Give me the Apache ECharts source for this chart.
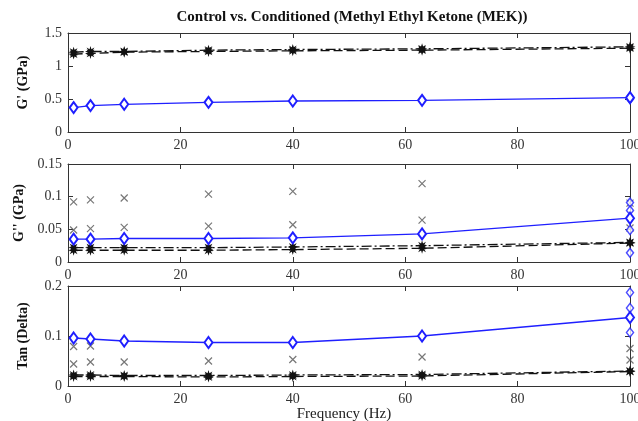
<!DOCTYPE html>
<html>
<head>
<meta charset="utf-8">
<script src="https://cdn.jsdelivr.net/npm/echarts@6/dist/echarts.min.js"></script>
<style>
  html, body { margin: 0; padding: 0; background: #fff; }
  #chart { width: 638px; height: 421px; }
</style>
</head>
<body>
<div id="chart"></div>
<script>
// frequencies (Hz)
var freq = [1, 4, 10, 25, 40, 63, 100];

// G' (GPa)
var gpBlue = [0.37, 0.40, 0.42, 0.45, 0.47, 0.48, 0.52];
var gpDash = [1.18, 1.19, 1.21, 1.22, 1.23, 1.24, 1.27];
var gpDashDot = [1.21, 1.22, 1.22, 1.24, 1.25, 1.26, 1.29];
var gpBlueExtra = [0.50, 0.53];

// G'' (GPa)
var gppBlue = [0.035, 0.035, 0.036, 0.036, 0.037, 0.043, 0.067];
var gppDash = [0.018, 0.018, 0.018, 0.018, 0.019, 0.021, 0.029];
var gppDashDot = [0.022, 0.022, 0.022, 0.022, 0.023, 0.025, 0.030];
var gppCrossHigh = [0.092, 0.095, 0.098, 0.104, 0.108, 0.120, 0.090];
var gppCrossLow = [0.049, 0.051, 0.053, 0.055, 0.057, 0.064, 0.052];
var gppBlueExtra = [0.091, 0.079, 0.049, 0.014];

// Tan (Delta)
var tdBlue = [0.096, 0.094, 0.090, 0.087, 0.087, 0.100, 0.137];
var tdDash = [0.019, 0.019, 0.019, 0.018, 0.019, 0.020, 0.029];
var tdDashDot = [0.022, 0.022, 0.021, 0.021, 0.022, 0.023, 0.030];
var tdCrossHigh = [0.079, 0.080, null, null, null, null, 0.075];
var tdCrossLow = [0.044, 0.048, 0.048, 0.050, 0.053, 0.058, 0.052];
var tdBlueExtra = [0.187, 0.156, 0.107];

var xTicks = [0, 20, 40, 60, 80, 100];

var blue = '#1f1fff';
var star = 'path://M10,0 L4.16,1.72 L7.07,7.07 L1.72,4.16 L0,10 L-1.72,4.16 L-7.07,7.07 L-4.16,1.72 L-10,0 L-4.16,-1.72 L-7.07,-7.07 L-1.72,-4.16 L0,-10 L1.72,-4.16 L7.07,-7.07 L4.16,-1.72 Z';
var cross = 'path://M0,0 L10,10 M10,0 L0,10';
var serif = 'Liberation Serif';

function pairs(ys) {
  var out = [];
  for (var i = 0; i < freq.length; i++) {
    if (ys[i] != null) out.push([freq[i], ys[i]]);
  }
  return out;
}
function at100(ys) {
  return ys.map(function (v) { return [100, v]; });
}

var grids = [
  { left: 68, top: 33, width: 562, height: 99 },
  { left: 68, top: 164, width: 562, height: 98 },
  { left: 68, top: 286, width: 562, height: 100 }
];
grids.forEach(function (g) { g.outerBoundsMode = 'none'; });

var yCfg = [
  { name: "G' (GPa)", max: 1.5, interval: 0.5 },
  { name: "G'' (GPa)", max: 0.15, interval: 0.05 },
  { name: 'Tan (Delta)', max: 0.2, interval: 0.1 }
];

var lineCol = '#333';
var xAxes = [], yAxes = [];
for (var g = 0; g < 3; g++) {
  xAxes.push({
    type: 'value', gridIndex: g, min: 0, max: 100, interval: 20, position: 'bottom',
    axisLine: { onZero: false, lineStyle: { color: lineCol } },
    axisTick: { inside: true, length: 5, lineStyle: { color: lineCol } },
    axisLabel: { color: '#333', fontFamily: serif, fontSize: 14, margin: 6,
      formatter: function (v) { return xTicks.indexOf(v) >= 0 ? String(v) : ''; } },
    splitLine: { show: false },
    name: g === 2 ? 'Frequency (Hz)' : '', nameLocation: 'middle', nameGap: 18,
    nameTextStyle: { color: '#222', fontFamily: serif, fontSize: 15, padding: [0, 10, 0, 0] }
  });
  xAxes.push({
    type: 'value', gridIndex: g, min: 0, max: 100, interval: 20, position: 'top',
    axisLine: { onZero: false, lineStyle: { color: lineCol } },
    axisTick: { inside: true, length: 5, lineStyle: { color: lineCol } },
    axisLabel: { show: false }, splitLine: { show: false }
  });
  yAxes.push({
    type: 'value', gridIndex: g, min: 0, max: yCfg[g].max, interval: yCfg[g].interval, position: 'left',
    axisLine: { show: true, onZero: false, lineStyle: { color: lineCol } },
    axisTick: { show: true, inside: true, length: 5, lineStyle: { color: lineCol } },
    axisLabel: { color: '#333', fontFamily: serif, fontSize: 14, margin: 6 },
    splitLine: { show: false },
    name: yCfg[g].name, nameLocation: 'middle', nameRotate: 90, nameGap: 38,
    nameTextStyle: { color: '#111', fontFamily: serif, fontSize: 14, fontWeight: 'bold' }
  });
  yAxes.push({
    type: 'value', gridIndex: g, min: 0, max: yCfg[g].max, interval: yCfg[g].interval, position: 'right',
    axisLine: { show: true, onZero: false, lineStyle: { color: lineCol } },
    axisTick: { show: true, inside: true, length: 5, lineStyle: { color: lineCol } },
    axisLabel: { show: false }, splitLine: { show: false }
  });
}

function blueLine(g, ys) {
  return { type: 'line', xAxisIndex: g * 2, yAxisIndex: g * 2, data: pairs(ys),
    symbol: 'diamond', symbolSize: [8, 11], showSymbol: true,
    lineStyle: { color: blue, width: 1.3 },
    itemStyle: { color: '#fff', borderColor: blue, borderWidth: 2 } };
}
function blackLine(g, ys, dash) {
  return { type: 'line', xAxisIndex: g * 2, yAxisIndex: g * 2, data: pairs(ys),
    symbol: star, symbolSize: 11,
    lineStyle: { color: '#111', width: 1.3, type: dash },
    itemStyle: { color: '#111' } };
}
function crosses(g, data) {
  return { type: 'scatter', xAxisIndex: g * 2, yAxisIndex: g * 2, data: data,
    symbol: cross, symbolSize: 7,
    itemStyle: { color: 'none', borderColor: '#555', borderWidth: 1.2 } };
}
function blueExtra(g, ys) {
  return { type: 'scatter', xAxisIndex: g * 2, yAxisIndex: g * 2, data: at100(ys),
    symbol: 'diamond', symbolSize: [7, 9],
    itemStyle: { color: '#fff', borderColor: blue, borderWidth: 1.5 } };
}

var dashA = [9, 4];
var dashB = [10, 3, 2, 3];

var series = [
  blackLine(0, gpDash, dashA), blackLine(0, gpDashDot, dashB), blueLine(0, gpBlue), blueExtra(0, gpBlueExtra),
  crosses(1, pairs(gppCrossHigh)), crosses(1, pairs(gppCrossLow)),
  blackLine(1, gppDash, dashA), blackLine(1, gppDashDot, dashB), blueLine(1, gppBlue), blueExtra(1, gppBlueExtra),
  crosses(2, pairs(tdCrossHigh)), crosses(2, pairs(tdCrossLow)),
  blackLine(2, tdDash, dashA), blackLine(2, tdDashDot, dashB), blueLine(2, tdBlue), blueExtra(2, tdBlueExtra)
];
series.forEach(function (s) { s.animation = false; s.silent = true; });

var chart = echarts.init(document.getElementById('chart'));
chart.setOption({
  backgroundColor: '#fff',
  animation: false,
  title: {
    text: 'Control vs. Conditioned (Methyl Ethyl Ketone (MEK))',
    left: 347, top: 5, textAlign: 'center',
    textStyle: { fontFamily: serif, fontSize: 15, fontWeight: 'bold', color: '#111' }
  },
  grid: grids,
  xAxis: xAxes,
  yAxis: yAxes,
  series: series
});
</script>
</body>
</html>
